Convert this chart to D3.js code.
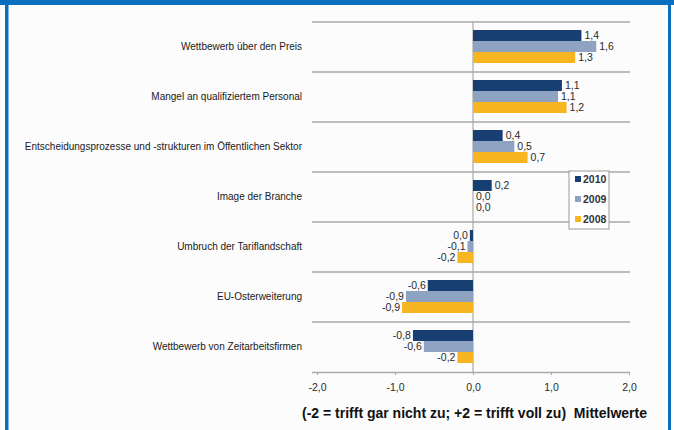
<!DOCTYPE html>
<html>
<head>
<meta charset="utf-8">
<script src="https://cdn.jsdelivr.net/npm/d3@7"></script>
<style>
  html, body { margin: 0; padding: 0; background: #ffffff; }
  svg { display: block; }
  .cat { font-family: "Liberation Sans", Arial, sans-serif; font-size: 10px; fill: #1a1a1a; }
  .val { font-family: "Liberation Sans Narrow", "Arial Narrow", "Liberation Sans", sans-serif; font-size: 10.5px; fill: #2a2a2a; }
  .tick text { font-family: "Liberation Sans Narrow", "Arial Narrow", "Liberation Sans", sans-serif; font-size: 10.5px; fill: #2a2a2a; }
  .leg { font-family: "Liberation Sans Narrow", "Arial Narrow", "Liberation Sans", sans-serif; font-size: 10.5px; font-weight: bold; fill: #333; }
  .title { font-family: "Liberation Sans Narrow", "Arial Narrow", "Liberation Sans", sans-serif; font-size: 14px; font-weight: bold; fill: #111; white-space: pre; }
</style>
</head>
<body>
<svg id="chart" width="674" height="430"></svg>
<script>
// Survey categories (top to bottom)
const categories = [
  "Wettbewerb über den Preis",
  "Mangel an qualifiziertem Personal",
  "Entscheidungsprozesse und -strukturen im Öffentlichen Sektor",
  "Image der Branche",
  "Umbruch der Tariflandschaft",
  "EU-Osterweiterung",
  "Wettbewerb von Zeitarbeitsfirmen"
];

// Mean scores per year
const years = ["2010", "2009", "2008"];
const values2010 = [1.39, 1.14, 0.38, 0.24, -0.04, -0.58, -0.77];
const values2009 = [1.58, 1.09, 0.53, 0.0, -0.07, -0.86, -0.63];
const values2008 = [1.31, 1.2, 0.7, 0.0, -0.2, -0.91, -0.2];

const tickValues = [-2, -1, 0, 1, 2];
const axisTitle = "(-2 = trifft gar nicht zu; +2 = trifft voll zu)  Mittelwerte";

const colors = { "2010": "#173f71", "2009": "#8ea3c2", "2008": "#f7b521" };

const series = { "2010": values2010, "2009": values2009, "2008": values2008 };
const rows = categories.map((c, i) => ({
  cat: c,
  vals: years.map(y => ({ year: y, v: series[y][i] }))
}));

// one decimal, German comma, no negative zero
const fmt = v => {
  let r = Math.round(v * 10) / 10;
  if (Object.is(r, -0)) r = 0;
  return r.toFixed(1).replace(".", ",");
};

const svg = d3.select("#chart");
const W = 674, H = 430;

// frame
svg.append("rect").attr("x", 0).attr("y", 0).attr("width", W).attr("height", H).attr("fill", "#ffffff");
svg.append("rect").attr("x", 9).attr("y", 5).attr("width", 659).attr("height", H - 5).attr("fill", "#fcfcfc");
svg.append("rect").attr("x", 0).attr("y", 0).attr("width", W).attr("height", 5).attr("fill", "#0b6fbf");
svg.append("rect").attr("x", 5).attr("y", 0).attr("width", 3).attr("height", H).attr("fill", "#0b6fbf");
svg.append("rect").attr("x", 8).attr("y", 5).attr("width", 1).attr("height", H).attr("fill", "#7fb8e6");
svg.append("rect").attr("x", 668).attr("y", 0).attr("width", 3).attr("height", H).attr("fill", "#0b6fbf");

const plotTop = 22, plotBottom = 372;
const x = d3.scaleLinear().domain([-2, 2]).range([317, 629]);
const y = d3.scaleBand().domain(categories).range([plotTop, plotBottom]);
const yInner = d3.scaleBand().domain(years).range([8, 41]);

// separators between categories
const seps = d3.range(categories.length).map(i => plotTop + i * y.step());
svg.append("g").selectAll("line").data(seps).join("line")
  .attr("x1", 312).attr("x2", 630)
  .attr("y1", d => d).attr("y2", d => d)
  .attr("stroke", "#a9a9a9").attr("stroke-width", 1.3);

// zero line
svg.append("line")
  .attr("x1", x(0)).attr("x2", x(0))
  .attr("y1", plotTop).attr("y2", plotBottom)
  .attr("stroke", "#a9a9a9").attr("stroke-width", 1.2);

// category labels
svg.append("g").selectAll("text").data(categories).join("text")
  .attr("class", "cat")
  .attr("x", 302)
  .attr("y", d => y(d) + y.bandwidth() / 2 + 3)
  .attr("text-anchor", "end")
  .text(d => d);

// bars
const groups = svg.append("g").selectAll("g").data(rows).join("g")
  .attr("transform", d => `translate(0,${y(d.cat)})`);

groups.selectAll("rect").data(d => d.vals).join("rect")
  .attr("x", d => Math.min(x(0), x(d.v)))
  .attr("y", d => yInner(d.year))
  .attr("width", d => Math.abs(x(d.v) - x(0)))
  .attr("height", yInner.bandwidth())
  .attr("fill", d => colors[d.year]);

groups.selectAll("text").data(d => d.vals).join("text")
  .attr("class", "val")
  .attr("x", d => d.v < 0 ? x(d.v) - 2 : x(d.v) + 3)
  .attr("y", d => yInner(d.year) + yInner.bandwidth() / 2 + 3.5)
  .attr("text-anchor", d => d.v < 0 ? "end" : "start")
  .text(d => fmt(d.v));

// x axis
const xAxis = d3.axisBottom(x).tickValues(tickValues).tickSize(3).tickPadding(9)
  .tickFormat(d => d3.format(".1f")(d).replace(".", ",").replace("−", "-"));
const gx = svg.append("g").attr("class", "x axis").attr("transform", `translate(0,${plotBottom})`).call(xAxis);
gx.select(".domain").attr("stroke", "#a9a9a9").attr("stroke-width", 1.3)
  .attr("d", "M312,0.5H630");
gx.selectAll(".tick line").attr("stroke", "#a9a9a9");

// axis title
svg.append("text").attr("class", "title")
  .attr("x", 302).attr("y", 418)
  .attr("xml:space", "preserve")
  .text(axisTitle);

// legend
const leg = svg.append("g").attr("transform", "translate(569,171)");
leg.append("rect").attr("x", 0).attr("y", 0).attr("width", 40).attr("height", 58)
  .attr("fill", "#ffffff").attr("stroke", "#9a9a9a").attr("stroke-width", 1);
const li = leg.selectAll("g").data(years).join("g")
  .attr("transform", (d, i) => `translate(6,${8 + i * 20})`);
li.append("rect").attr("x", 0).attr("y", -3).attr("width", 6).attr("height", 6)
  .attr("fill", d => colors[d]);
li.append("text").attr("class", "leg").attr("x", 8).attr("y", 4).text(d => d);
</script>
</body>
</html>
